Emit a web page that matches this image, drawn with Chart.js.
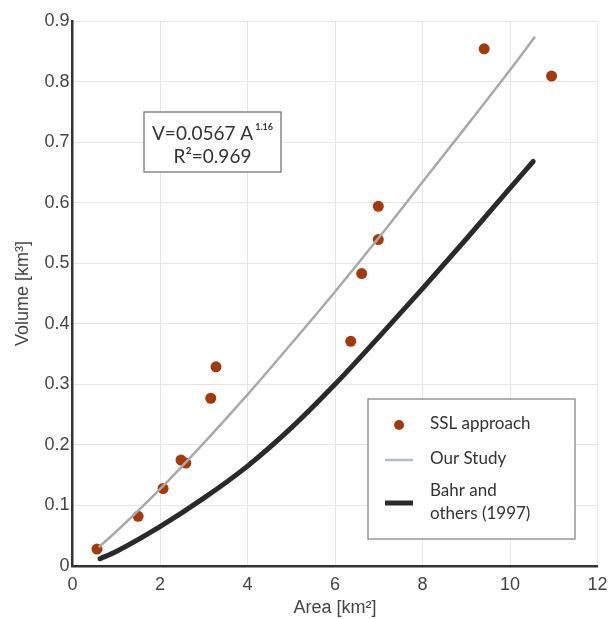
<!DOCTYPE html>
<html>
<head>
<meta charset="utf-8">
<script src="https://cdn.jsdelivr.net/npm/chart.js@4/dist/chart.umd.min.js"></script>
<style>
html,body{margin:0;padding:0;background:#fff;}
#wrap{width:611px;height:619px;position:relative;}
</style>
</head>
<body>
<div id="wrap"><canvas id="c" width="611" height="619"></canvas></div>
<script>
// ---- data ----
const sslArea   = [0.56, 1.50, 2.07, 2.48, 2.59, 3.16, 3.28, 6.36, 6.61, 6.99, 6.99, 9.41, 10.95];
const sslVolume = [0.028, 0.082, 0.128, 0.175, 0.170, 0.277, 0.329, 0.371, 0.483, 0.539, 0.594, 0.854, 0.809];

const ourStudyArea   = [0.6, 1, 2, 3, 4, 5, 6, 7, 8, 9, 10, 10.57];
const ourStudyVolume = [0.031, 0.057, 0.127, 0.203, 0.283, 0.367, 0.453, 0.542, 0.634, 0.726, 0.819, 0.874];

const bahrArea   = [0.63, 1, 2, 3, 4, 5, 6, 7, 8, 9, 10, 10.53];
const bahrVolume = [0.012, 0.024, 0.065, 0.112, 0.165, 0.228, 0.300, 0.378, 0.458, 0.540, 0.624, 0.668];

const seriesLabels = ["SSL approach", "Our Study", "Bahr and others (1997)"];
const legendLines  = [["SSL approach"], ["Our Study"], ["Bahr and", "others (1997)"]];
const xTitle = "Area [km²]";
const yTitle = "Volume [km³]";
const eqMain = "V=0.0567 A";
const eqExp  = "1.16";
const eqR2   = "R²=0.969";

const toPts = (xs, ys) => xs.map((x, i) => ({x: x, y: ys[i]}));

const COL_PT = '#a6390b';
const COL_OUR = '#a9a9a9';
const COL_BAHR = '#2a2a2a';
const LBL_FONT = 'Lato, "Open Sans", sans-serif';

const overlay = {
  id: 'overlay',
  afterDatasetsDraw(chart) {
    const ctx = chart.ctx;
    ctx.save();
    // equation box
    const bx = 144, by = 112, bw = 137, bh = 60;
    ctx.fillStyle = '#fff';
    ctx.fillRect(bx, by, bw, bh);
    ctx.strokeStyle = '#777';
    ctx.lineWidth = 1.3;
    ctx.strokeRect(bx, by, bw, bh);
    ctx.fillStyle = '#333';
    ctx.textBaseline = 'alphabetic';
    ctx.font = '19px ' + LBL_FONT;
    const wMain = ctx.measureText(eqMain).width;
    ctx.font = 'bold 9px ' + LBL_FONT;
    const wExp = ctx.measureText(eqExp).width;
    const total = wMain + wExp + 2;
    let sx = bx + bw / 2 - total / 2;
    ctx.font = '19px ' + LBL_FONT;
    ctx.textAlign = 'left';
    ctx.fillText(eqMain, sx, by + 28);
    ctx.font = 'bold 9px ' + LBL_FONT;
    ctx.fillText(eqExp, sx + wMain + 2, by + 18);
    ctx.font = '19px ' + LBL_FONT;
    ctx.textAlign = 'center';
    ctx.fillText(eqR2, bx + bw / 2, by + 51);

    // legend box
    const lx = 368, ly = 399, lw = 207, lh = 140;
    ctx.fillStyle = '#fff';
    ctx.fillRect(lx, ly, lw, lh);
    ctx.strokeStyle = '#888';
    ctx.lineWidth = 1.3;
    ctx.strokeRect(lx, ly, lw, lh);
    const ds = chart.data.datasets;
    ctx.fillStyle = ds[0].backgroundColor;
    ctx.beginPath();
    ctx.arc(399, 425, 5, 0, Math.PI * 2);
    ctx.fill();
    ctx.strokeStyle = '#b4bcc8';
    ctx.lineWidth = 2.5;
    ctx.beginPath(); ctx.moveTo(385, 460); ctx.lineTo(413, 460); ctx.stroke();
    ctx.strokeStyle = ds[2].borderColor;
    ctx.lineWidth = 5;
    ctx.beginPath(); ctx.moveTo(385, 503); ctx.lineTo(413, 503); ctx.stroke();
    ctx.fillStyle = '#333';
    ctx.textAlign = 'left';
    ctx.textBaseline = 'middle';
    ctx.font = '17px ' + LBL_FONT;
    ctx.fillText(legendLines[0][0], 430, 424);
    ctx.fillText(legendLines[1][0], 430, 459);
    ctx.fillText(legendLines[2][0], 430, 491);
    ctx.fillText(legendLines[2][1], 430, 514);
    ctx.restore();
  }
};

new Chart(document.getElementById('c'), {
  type: 'scatter',
  data: {
    datasets: [
      {
        label: seriesLabels[0],
        data: toPts(sslArea, sslVolume),
        backgroundColor: COL_PT,
        borderColor: COL_PT,
        pointRadius: 5.5,
        pointBorderWidth: 0,
        showLine: false,
        order: 2
      },
      {
        label: seriesLabels[1],
        data: toPts(ourStudyArea, ourStudyVolume),
        borderColor: COL_OUR,
        backgroundColor: COL_OUR,
        borderWidth: 2.5,
        pointRadius: 0,
        showLine: true,
        cubicInterpolationMode: 'monotone',
        order: 1
      },
      {
        label: seriesLabels[2],
        data: toPts(bahrArea, bahrVolume),
        borderColor: COL_BAHR,
        backgroundColor: COL_BAHR,
        borderWidth: 5,
        borderCapStyle: 'round',
        pointRadius: 0,
        showLine: true,
        cubicInterpolationMode: 'monotone',
        order: 0
      }
    ]
  },
  options: {
    responsive: false,
    animation: false,
    devicePixelRatio: 1,
    layout: { padding: { left: 0, top: 21, right: 13.5, bottom: 0 } },
    plugins: { legend: { display: false }, tooltip: { enabled: false } },
    scales: {
      x: {
        type: 'linear',
        min: 0, max: 12,
        afterFit(s) { s.height = 53; s.paddingRight = 0; s.paddingLeft = 0; },
        ticks: { stepSize: 2, color: '#444', font: { family: '"Liberation Sans", Arial, sans-serif', size: 18 }, padding: 8, maxRotation: 0 },
        grid: { color: '#e6e6e6', lineWidth: 1, drawTicks: false },
        border: { color: '#333', width: 2.5 },
        title: { display: true, text: xTitle, color: '#444', font: { family: '"Liberation Sans", Arial, sans-serif', size: 18, lineHeight: 1 }, padding: { top: 0, bottom: 2 } }
      },
      y: {
        type: 'linear',
        min: 0, max: 0.9,
        afterFit(s) { s.width = 72.5; s.paddingTop = 0; s.paddingBottom = 0; },
        ticks: { stepSize: 0.1, color: '#444', font: { family: '"Liberation Sans", Arial, sans-serif', size: 18 }, padding: 3 },
        grid: { color: '#e6e6e6', lineWidth: 1, drawTicks: false },
        border: { color: '#333', width: 2.5 },
        title: { display: true, text: yTitle, color: '#444', font: { family: '"Liberation Sans", Arial, sans-serif', size: 18, lineHeight: 1 }, padding: { top: 14, bottom: 0 } }
      }
    }
  },
  plugins: [overlay]
});
</script>
</body>
</html>
